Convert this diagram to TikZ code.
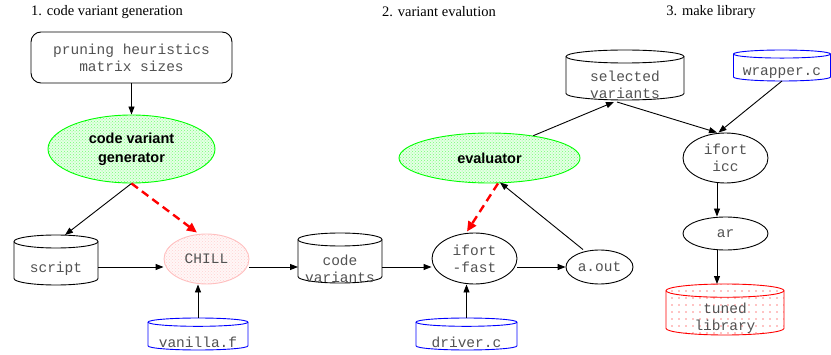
\documentclass[tikz,border=0pt]{standalone}
\usepackage{fontspec}
\setmainfont{Liberation Serif}
\newfontfamily\monof{Liberation Mono}
\newfontfamily\sansf{Liberation Sans}
\usetikzlibrary{shapes.geometric,patterns,arrows.meta}
\pgfdeclarepatternformonly{sparsedots}{\pgfqpoint{-1pt}{-1pt}}{\pgfqpoint{7pt}{7pt}}{\pgfqpoint{7pt}{7pt}}{\pgfpathcircle{\pgfqpoint{0pt}{0pt}}{0.6pt}\pgfusepath{fill}}
\tikzset{
  mono/.style={font=\monof\fontsize{14.5}{17}\selectfont, text=black!68, align=center},
  bsans/.style={font=\sansf\bfseries\fontsize{14.5}{19}\selectfont, align=center},
  title/.style={font=\rmfamily\fontsize{14.5}{17}\selectfont},
  ell/.style={ellipse, draw, line width=0.9pt, inner sep=0pt},
  greenell/.style={draw=green, preaction={fill=green!10}, pattern=crosshatch dots, pattern color=green!55},
  pinkell/.style={draw=pink, preaction={fill=red!3}, pattern=crosshatch dots, pattern color=pink!70},
  arr/.style={line width=0.9pt, -{Triangle[length=8pt,width=6pt]}},
  redarr/.style={draw=red, line width=2.4pt, dash pattern=on 8pt off 5pt, -{Triangle[length=10pt,width=9pt]}},
  cylblack/.style={draw=black, fill=white},
  cylblue/.style={draw=blue, fill=white},
  cylred/.style={draw=red, pattern=sparsedots, pattern color=red},
}
% #1 name, #2 cx, #3 cy, #4 width, #5 height, #6 body style, #7 line colour
\newcommand\cylnode[7]{%
  \pgfmathsetmacro\cylE{0.13*#5}%
  \pgfmathsetmacro\cylR{#4/2}%
  \node[minimum width=#4pt, minimum height=#5pt, inner sep=0pt, outer sep=0pt] (#1) at (#2,#3) {};
  \path[#6, line width=0.9pt] (#2-#4/2, #3+#5/2-\cylE) -- (#2-#4/2, #3-#5/2+\cylE)
     arc[start angle=180, end angle=360, x radius=\cylR pt, y radius=\cylE pt]
     -- (#2+#4/2, #3+#5/2-\cylE)
     arc[start angle=0, end angle=180, x radius=\cylR pt, y radius=\cylE pt] -- cycle;
  \draw[#7, line width=0.9pt] (#2-#4/2, #3+#5/2-\cylE)
     arc[start angle=180, end angle=360, x radius=\cylR pt, y radius=\cylE pt];
}
\begin{document}
\begin{tikzpicture}[x=1pt, y=1pt]
\useasboundingbox (0,0) rectangle (831,354);

% titles
\node[title] (t1) at (107,342) {1. code variant generation};
\node[title] (t2) at (439,342) {2. variant evalution};
\node[title] (t3) at (711,342) {3. make library};

% nodes
\node[draw, rounded corners=10pt, line width=0.9pt, minimum width=201pt, minimum height=51pt, mono] (prune) at (131.5,296.5) {pruning heuristics\\matrix sizes};
\node[ell, greenell, minimum width=167pt, minimum height=68pt, bsans] (gen) at (131.5,205) {code variant\\generator};
\node[ell, pinkell, minimum width=85pt, minimum height=50pt, mono] (chill) at (206.5,95) {CHILL};
\node[ell, minimum width=85pt, minimum height=51pt, mono] (ifast) at (474.5,95.5) {ifort\\-fast};
\node[ell, minimum width=67pt, minimum height=34pt, mono] (aout) at (599.5,87) {a.out};
\node[ell, greenell, minimum width=181pt, minimum height=50pt, bsans] (eval) at (489.5,196) {evaluator};
\node[ell, minimum width=85pt, minimum height=50pt, mono] (icc) at (725.5,196) {ifort\\icc};
\node[ell, minimum width=85pt, minimum height=33pt, mono] (ar) at (725.5,120.5) {ar};

% cylinders
\cylnode{script}{56}{94}{84}{50}{cylblack}{black}
\cylnode{codev}{340}{96}{84}{50}{cylblack}{black}
\cylnode{selv}{625}{279}{118}{50}{cylblack}{black}
\cylnode{vanilla}{198}{20}{100}{32}{cylblue}{blue}
\cylnode{driver}{466.5}{20}{101}{32}{cylblue}{blue}
\cylnode{wrap}{782}{288.5}{97}{31}{cylblue}{blue}
\cylnode{tuned}{725}{44.5}{118}{51}{cylred}{red}

\node[mono] (script-t) at (56,85) {script};
\node[mono] (codev-t) at (340,85.5) {code\\variants};
\node[mono] (selv-t) at (625,269.5) {selected\\variants};
\node[mono] (vanilla-t) at (198,12) {vanilla.f};
\node[mono] (driver-t) at (466.5,12) {driver.c};
\node[mono] (wrap-t) at (782,281) {wrapper.c};
\node[mono] (tuned-t) at (725,35.5) {tuned\\library};

% connectors
\draw[arr] (prune.south) -- (gen.north);
\draw[arr] (gen.south) -- ([xshift=9pt]script.north);
\draw[redarr] (gen.south) -- ([xshift=-9.5pt,yshift=1pt]chill.north);
\draw[arr] ([yshift=-7pt]script.east) -- ([yshift=-8pt]chill.west);
\draw[arr] ([yshift=-8pt]chill.east) -- ([yshift=-9pt]codev.west);
\draw[arr] ([yshift=-9pt]codev.east) -- ([yshift=-8.5pt]ifast.west);
\draw[arr] ([yshift=-8.5pt]ifast.east) -- (aout.west);
\draw[arr] (vanilla.north) -- (vanilla.north |- chill.south);
\draw[arr] (driver.north) -- (driver.north |- ifast.south);
\draw[redarr] ([xshift=8.5pt]eval.south) -- ([xshift=-7.5pt,yshift=1pt]ifast.north);
\draw[arr] ([xshift=-16.5pt]aout.north) -- ([xshift=10.5pt,yshift=1pt]eval.south);
\draw[arr] (eval.27) -- ([xshift=-11pt,yshift=-2pt]selv.south);
\draw[arr] ([xshift=-8pt,yshift=-2pt]selv.south) -- ([xshift=-8.5pt]icc.north);
\draw[arr] (wrap.south) -- ([xshift=-7pt]icc.north);
\draw[arr] ([xshift=-8.5pt]icc.south) -- ([xshift=-8.5pt]ar.north);
\draw[arr] ([xshift=-8.5pt]ar.south) -- ([xshift=-8pt]tuned.north);
\end{tikzpicture}
\end{document}
